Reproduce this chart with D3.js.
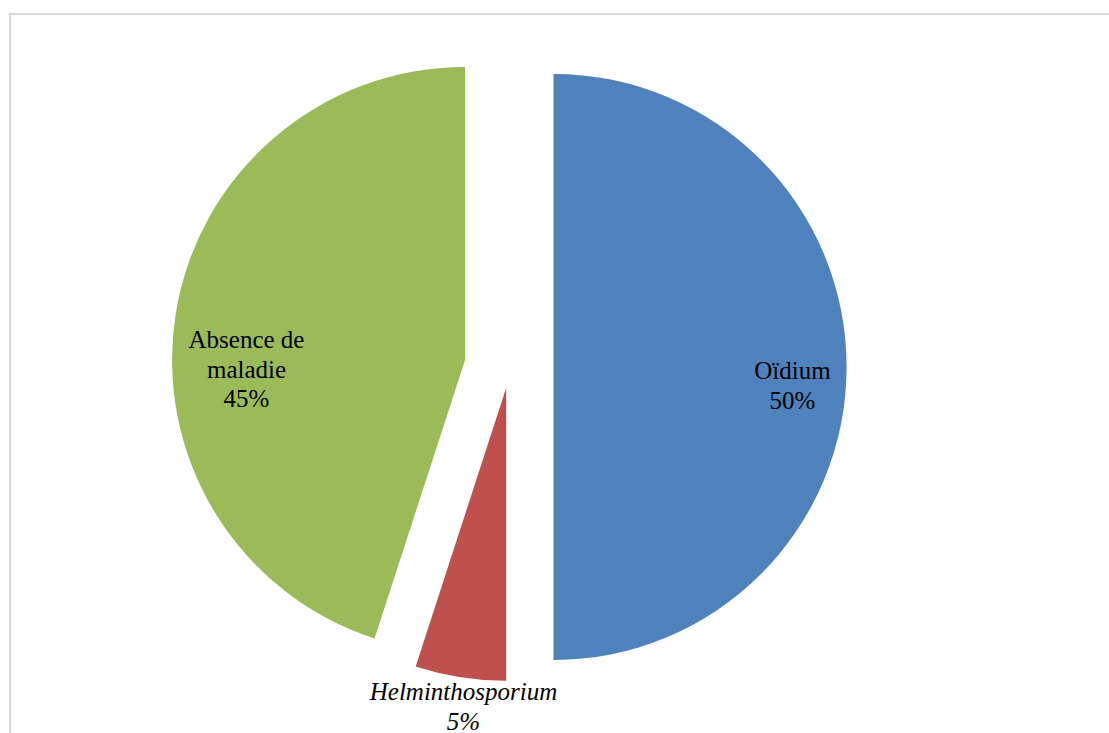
<!DOCTYPE html>
<html>
<head>
<meta charset="utf-8">
<script src="https://cdn.jsdelivr.net/npm/d3@7"></script>
<style>
  html, body { margin: 0; padding: 0; background: #fff; overflow: hidden; }
  svg { display: block; }
  .label { font-family: "Liberation Serif", "Times New Roman", Tinos, "DejaVu Serif", serif; }
</style>
</head>
<body>
<svg id="chart" width="1109" height="733"></svg>
<script>
// Disease share data
const categories = ["Oïdium", "Helminthosporium", "Absence de maladie"];
const values = [50, 5, 45];
const labelLines = [["Oïdium", "50%"], ["Helminthosporium", "5%"], ["Absence de", "maladie", "45%"]];

// Styling and layout
const colors = ["#4f81bd", "#c0504d", "#9bbb59"];
const explode = [44, 21, 45];           // radial offset of each slice, px
const italic = [false, true, false];
const center = { x: 509.5, y: 367 };
const radius = 293;
// label anchor (first baseline) relative to pie centre
const labelOffsets = [[283, 12], [-46, 333], [-263, -19]];
const lineHeight = 29.5;

const svg = d3.select("#chart");

// chart area border
svg.append("rect")
  .attr("x", 10).attr("y", 14)
  .attr("width", 1120).attr("height", 740)
  .attr("fill", "none")
  .attr("stroke", "#d9d9d9")
  .attr("stroke-width", 2);

const pie = d3.pie().sort(null).value(d => d);
const arcs = pie(values);
const arc = d3.arc().innerRadius(0).outerRadius(radius);

const g = svg.append("g").attr("transform", `translate(${center.x},${center.y})`);

g.selectAll("path.slice")
  .data(arcs)
  .join("path")
  .attr("class", "slice")
  .attr("d", arc)
  .attr("fill", (d, i) => colors[i])
  .attr("transform", (d, i) => {
    const mid = (d.startAngle + d.endAngle) / 2;
    return `translate(${explode[i] * Math.sin(mid)},${-explode[i] * Math.cos(mid)})`;
  });

const labels = g.selectAll("text.label")
  .data(arcs)
  .join("text")
  .attr("class", "label")
  .attr("text-anchor", "middle")
  .attr("font-size", 25)
  .attr("fill", "#000")
  .attr("font-style", (d, i) => italic[i] ? "italic" : "normal")
  .attr("transform", (d, i) => `translate(${labelOffsets[i][0]},${labelOffsets[i][1]})`);

labels.each(function(d, i) {
  d3.select(this).selectAll("tspan")
    .data(labelLines[i])
    .join("tspan")
    .attr("x", 0)
    .attr("y", (t, j) => j * lineHeight)
    .text(t => t);
});
</script>
</body>
</html>
